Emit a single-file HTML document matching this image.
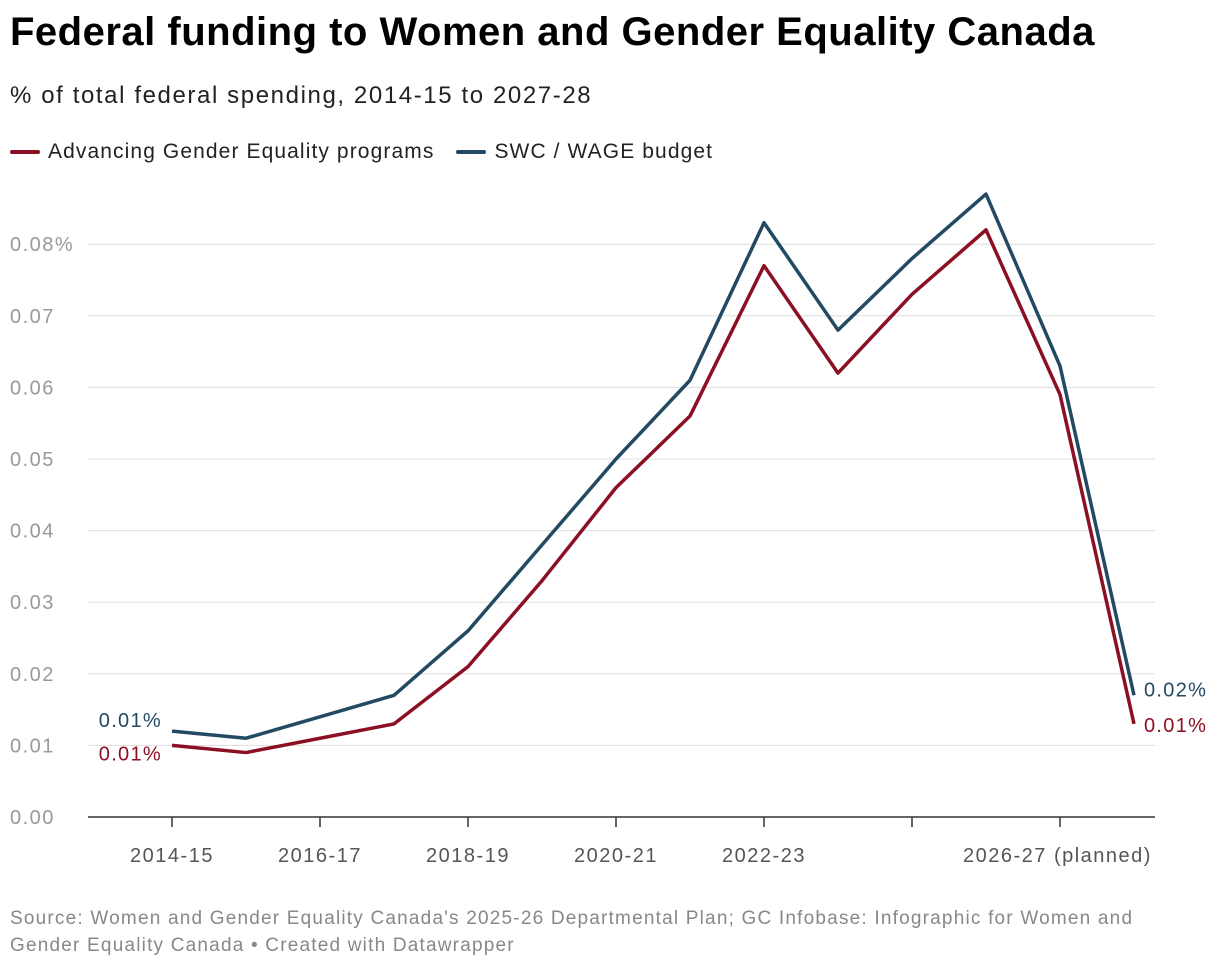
<!DOCTYPE html>
<html><head><meta charset="utf-8"><style>
body{margin:0;background:#fff;font-family:"Liberation Sans",sans-serif;}
#wrap{position:relative;width:1220px;height:970px;overflow:hidden}
h1{position:absolute;left:10px;top:10px;margin:0;font-size:40px;font-weight:bold;color:#000;letter-spacing:0.5px}
.sub{position:absolute;left:10px;top:82px;font-size:24px;color:#222;letter-spacing:1.6px}
.legend{position:absolute;left:10px;top:140px;font-size:21px;color:#222;display:flex;gap:22px;letter-spacing:1.1px}
.legend span.sw{display:inline-block;width:30px;height:4px;vertical-align:middle;margin-right:8px;border-radius:2px}
.src{position:absolute;left:10px;top:905px;font-size:19px;color:#888;line-height:27px;letter-spacing:1.2px}
</style></head><body>
<div id="wrap">
<h1>Federal funding to Women and Gender Equality Canada</h1>
<div class="sub">% of total federal spending, 2014-15 to 2027-28</div>
<div class="legend">
<div><span class="sw" style="background:#8c1024"></span>Advancing Gender Equality programs</div>
<div><span class="sw" style="background:#234a63"></span>SWC / WAGE budget</div>
</div>
<svg id="svg" width="1220" height="970" style="position:absolute;left:0;top:0"></svg>
<div class="src">Source: Women and Gender Equality Canada's 2025-26 Departmental Plan; GC Infobase: Infographic for Women and<br>Gender Equality Canada • Created with Datawrapper</div>
</div>
<script>
const years=["2014-15","2015-16","2016-17","2017-18","2018-19","2019-20","2020-21","2021-22","2022-23","2023-24","2024-25","2025-26","2026-27","2027-28"];
const wage=[0.012,0.011,0.014,0.017,0.026,0.038,0.050,0.061,0.083,0.068,0.078,0.087,0.063,0.017];
const age=[0.010,0.009,0.011,0.013,0.021,0.033,0.046,0.056,0.077,0.062,0.073,0.082,0.059,0.013];
const yTicks=[0,0.01,0.02,0.03,0.04,0.05,0.06,0.07,0.08];
const yLabels=["0.00","0.01","0.02","0.03","0.04","0.05","0.06","0.07","0.08%"];
const xLabels=["2014-15","","2016-17","","2018-19","","2020-21","","2022-23","","","","2026-27 (planned)",""];
const NS="http://www.w3.org/2000/svg",svg=document.getElementById('svg');
const x=i=>172+i*74, y=v=>817-v*7160;
function mk(t,a,txt){const e=document.createElementNS(NS,t);for(const k in a)e.setAttribute(k,a[k]);if(txt!=null)e.textContent=txt;svg.appendChild(e);return e;}
yTicks.forEach((v,i)=>{
 const g=mk('line',{x1:88,x2:1155,y1:y(v),y2:y(v),stroke:i==0?'#333':'#ddd','stroke-width':i==0?1.5:1});
 
 
 const t=mk('text',{x:10,y:y(v)+7,'font-size':20,fill:'#999','letter-spacing':1.5},yLabels[i]);
 
 
});
years.forEach((yr,i)=>{
 if(i%2)return;
 const tk=mk('line',{x1:x(i),x2:x(i),y1:817,y2:827,stroke:'#333','stroke-width':1.5});
 
 
 if(xLabels[i]){const t=mk('text',{x:x(i),y:862,'font-size':20,fill:'#555','letter-spacing':1.5,'text-anchor':i==12?'start':'middle'},xLabels[i]);
 if(i==12)t.setAttribute('x',x(i)-97);
 
 }
});
function line(d,c,n){const p=mk('polyline',{points:d.map((v,i)=>x(i)+','+y(v)).join(' '),fill:'none',stroke:c,'stroke-width':3.5,'stroke-linejoin':'round'});
 
 }
line(age,'#8c1024','line-age');
line(wage,'#234a63','line-wage');
const L=years.length-1;
function lab(xx,yy,txt,c,anchor,n){const t=mk('text',{x:xx,y:yy,'font-size':20,fill:c,'text-anchor':anchor,'letter-spacing':1.3},txt);
 
 }
lab(x(0)-10,y(wage[0])-4,(wage[0]).toFixed(2)+'%','#234a63','end','wage-start-label');
lab(x(0)-10,y(age[0])+15,(age[0]).toFixed(2)+'%','#8c1024','end','age-start-label');
lab(x(L)+10,y(wage[L])+1,(Math.round(wage[L]*100)/100).toFixed(2)+'%','#234a63','start','wage-end-label');
lab(x(L)+10,y(age[L])+8,(Math.round(age[L]*100)/100).toFixed(2)+'%','#8c1024','start','age-end-label');
</script>
</body></html>
